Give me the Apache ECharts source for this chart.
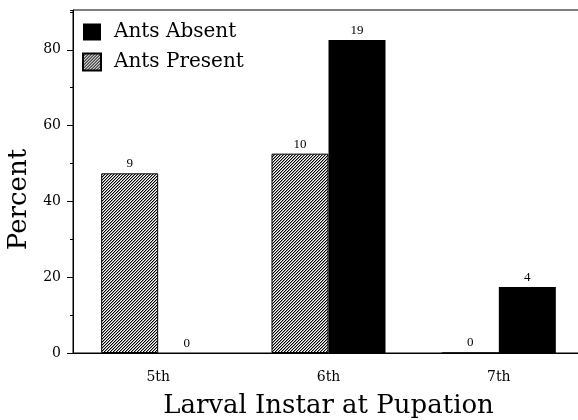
<!DOCTYPE html>
<html>
<head>
<meta charset="utf-8">
<script src="https://cdn.jsdelivr.net/npm/echarts@6/dist/echarts.min.js"></script>
<style>
  html, body { margin: 0; padding: 0; background: #fff; }
  #chart { width: 578px; height: 420px; }
</style>
</head>
<body>
<div id="chart"></div>
<script>
var categories = ['5th', '6th', '7th'];
var antsPresent = [47.4, 52.6, 0];
var antsAbsent = [0, 82.6, 17.4];
var presentCounts = [9, 10, 0];
var absentCounts = [0, 19, 4];

// diagonal hatch tile for "Ants Present"
var tile = document.createElement('canvas');
tile.width = 3;
tile.height = 3;
var tctx = tile.getContext('2d');
tctx.fillStyle = '#fff';
tctx.fillRect(0, 0, 3, 3);
for (var i = 0; i < 3; i++) {
  tctx.fillStyle = '#000';
  tctx.fillRect(i, 2 - i, 1, 1);
  tctx.fillStyle = '#999';
  tctx.fillRect(i, (3 - i) % 3, 1, 1);
}
var hatch = { image: tile, repeat: 'repeat' };

var serif = 'DejaVu Serif';
var chart = echarts.init(document.getElementById('chart'), null, { renderer: 'canvas' });
chart.setOption({
  animation: false,
  backgroundColor: '#fff',
  // plot runs past the right edge of the picture, like the cropped original
  grid: {
    left: 73, width: 511, top: 10, bottom: 67,
    outerBoundsMode: 'none', containLabel: false,
    show: true, borderColor: '#000', borderWidth: 1
  },
  legend: {
    data: ['Ants Absent', 'Ants Present'],
    orient: 'vertical',
    left: 82,
    top: 22,
    padding: 0,
    icon: 'rect',
    itemWidth: 18,
    itemHeight: 17,
    itemGap: 10,
    textStyle: { fontFamily: serif, fontSize: 20, color: '#000', padding: [0, 0, 0, 8] }
  },
  xAxis: {
    type: 'category',
    data: categories,
    name: 'Larval Instar at Pupation',
    nameLocation: 'middle',
    nameGap: 40,
    nameTextStyle: { fontFamily: serif, fontSize: 26, color: '#000' },
    axisLine: { lineStyle: { color: '#000', width: 1 } },
    axisTick: { alignWithLabel: true, length: 5, lineStyle: { color: '#000' } },
    axisLabel: { fontFamily: serif, fontSize: 14, color: '#000', margin: 17 }
  },
  yAxis: [
    {
      type: 'value',
      min: 0,
      max: 90.5,
      interval: 20,
      name: 'Percent',
      nameLocation: 'middle',
      nameGap: 40,
      nameTextStyle: { fontFamily: serif, fontSize: 26, color: '#000', padding: [0, 36, 0, 0] },
      axisLine: { show: true, lineStyle: { color: '#000', width: 1 } },
      axisTick: { show: true, length: 6, lineStyle: { color: '#000' } },
      axisLabel: { fontFamily: serif, fontSize: 14, color: '#000', margin: 12, showMaxLabel: false },
      splitLine: { show: false }
    },
    {
      type: 'value',
      position: 'left',
      min: 0,
      max: 90.5,
      interval: 10,
      axisLine: { show: false },
      axisTick: { show: true, length: 3, lineStyle: { color: '#000' } },
      axisLabel: { show: false },
      splitLine: { show: false }
    }
  ],
  series: [
    {
      name: 'Ants Present',
      type: 'bar',
      data: antsPresent,
      barWidth: 57,
      barGap: '0%',
      itemStyle: { color: hatch, borderColor: '#000', borderWidth: 1 },
      label: {
        show: true,
        position: 'top',
        distance: 3,
        fontFamily: 'Liberation Serif',
        fontSize: 13,
        color: '#000',
        formatter: function (p) { return presentCounts[p.dataIndex]; }
      }
    },
    {
      name: 'Ants Absent',
      type: 'bar',
      data: antsAbsent,
      barWidth: 57,
      barGap: '0%',
      itemStyle: { color: '#000' },
      label: {
        show: true,
        position: 'top',
        distance: 3,
        fontFamily: 'Liberation Serif',
        fontSize: 13,
        color: '#000',
        formatter: function (p) { return absentCounts[p.dataIndex]; }
      }
    }
  ]
});
</script>
</body>
</html>
